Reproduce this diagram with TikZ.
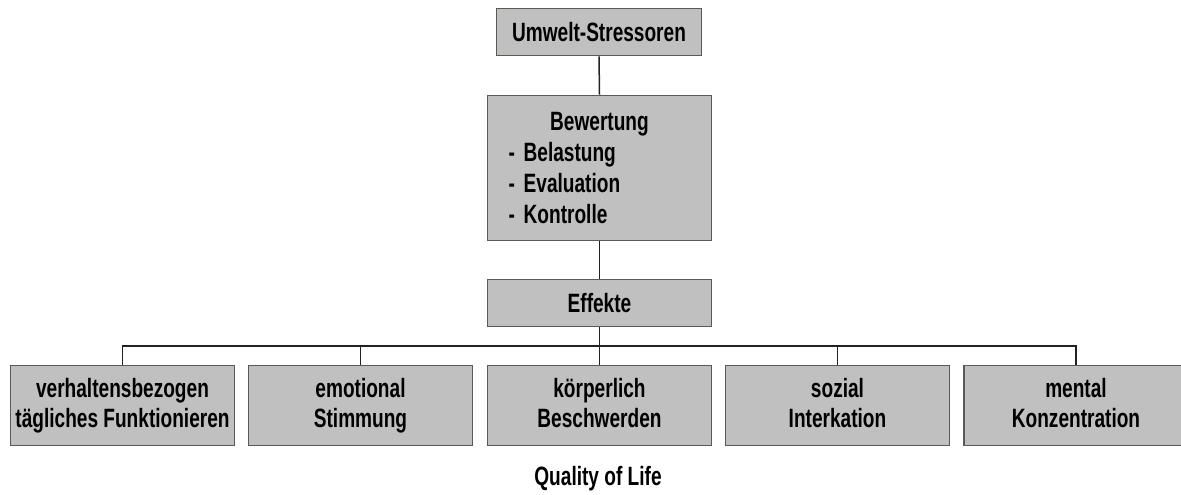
\documentclass[tikz,border=0pt]{standalone}
\usepackage{fontspec}
\setmainfont[FakeStretch=0.72]{Liberation Sans}
\usetikzlibrary{calc}
\definecolor{boxfill}{HTML}{C0C0C0}
\definecolor{boxline}{HTML}{5C5853}
\definecolor{conline}{HTML}{222222}
\tikzset{
	stressbox/.style={draw=boxline, fill=boxfill, line width=1.6pt, inner sep=0pt, font=\fontsize{26.5}{31.3}\selectfont\bfseries},
	effectbox/.style={stressbox, font=\fontsize{26.5}{30}\selectfont\bfseries, minimum width=224pt, minimum height=80pt, align=center, execute at end node=\vphantom{g}},
	conn/.style={draw=conline, line width=1.5pt}
}
\begin{document}
\begin{tikzpicture}[x=1pt, y=-1pt]
			%%%%% START %%%%%
			\clip (0, 0) rectangle (1181, 495);
			\useasboundingbox (0, 0) rectangle (1181, 495);
			
			\node[stressbox, minimum width=205pt, minimum height=47pt] (stress) at (599, 32) {Umwelt-Stressoren};
			
			\node[stressbox, minimum width=224pt, minimum height=145pt, text width=224pt, align=left] (bewert) at (599.5, 168)
				{\makebox[\linewidth][c]{Bewertung}\\
				\hspace*{21pt}- Belastung\\
				\hspace*{21pt}- Evaluation\\
				\hspace*{21pt}- Kontrolle};
			
			\node[stressbox, minimum width=224pt, minimum height=47pt] (effekte) at (599.5, 303) {Effekte};
			
			\node[effectbox] (verh) at (122.5, 405.5) {verhaltensbezogen\\tägliches Funktionieren};
			\node[effectbox] (emot) at (360.5, 405.5) {emotional\\Stimmung};
			\node[effectbox] (koerp) at (599.5, 405.5) {körperlich\\Beschwerden};
			\node[effectbox] (sozial) at (837.5, 405.5) {sozial\\Interkation};
			\node[effectbox] (mental) at (1076, 405.5) {mental\\Konzentration};
			
			\node[font=\fontsize{26.5}{31}\selectfont\bfseries, anchor=base] (qol) at (598, 485) {Quality of Life};
			
			\coordinate (bus) at (0, 346);
			\draw[conn] (stress.south) -- (bewert.north);
			\draw[conn] (bewert.south) -- (effekte.north);
			\foreach \n in {verh, emot, koerp, sozial, mental}
				\draw[conn] (effekte.south) -- (effekte.south |- bus) -| (\n.north);
			
			%%%%% END %%%%%
		\end{tikzpicture}
\end{document}
